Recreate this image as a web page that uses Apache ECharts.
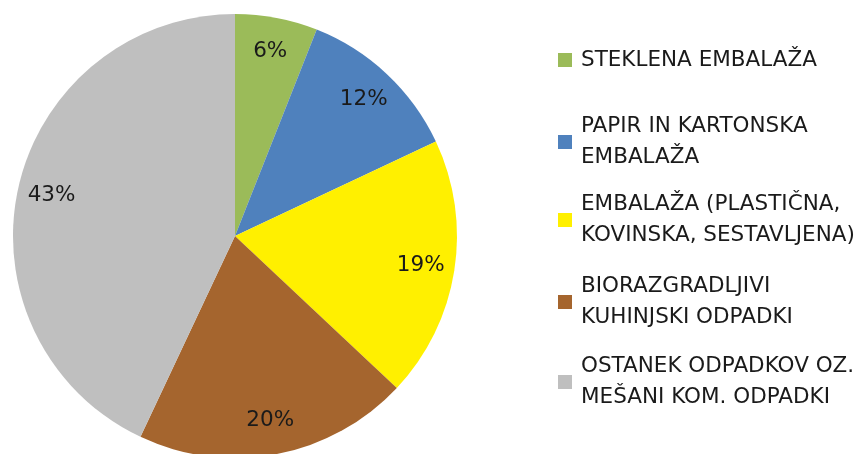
<!DOCTYPE html>
<html>
<head>
<meta charset="utf-8">
<script src="https://cdn.jsdelivr.net/npm/echarts@6/dist/echarts.min.js"></script>
<style>
  html, body { margin: 0; padding: 0; background: #fff; }
  #chart { width: 862px; height: 454px; }
</style>
</head>
<body>
<div id="chart"></div>
<script>
const categories = [
  'STEKLENA EMBALAŽA',
  'PAPIR IN KARTONSKA EMBALAŽA',
  'EMBALAŽA (PLASTIČNA, KOVINSKA, SESTAVLJENA)',
  'BIORAZGRADLJIVI KUHINJSKI ODPADKI',
  'OSTANEK ODPADKOV OZ. MEŠANI KOM. ODPADKI'
];
// legend text as wrapped in the original
const legendLines = [
  ['STEKLENA EMBALAŽA'],
  ['PAPIR IN KARTONSKA', 'EMBALAŽA'],
  ['EMBALAŽA (PLASTIČNA,', 'KOVINSKA, SESTAVLJENA)'],
  ['BIORAZGRADLJIVI', 'KUHINJSKI ODPADKI'],
  ['OSTANEK ODPADKOV OZ.', 'MEŠANI KOM. ODPADKI']
];
const shares = [6, 12, 19, 20, 43];
const colors = ['#9bbb59', '#4f81bd', '#fff000', '#a5652e', '#bfbfbf'];

const font = '"DejaVu Sans", sans-serif';
const lineH = 31;
// vertical centre of the first text line for each legend entry
const legendRows = [60, 142, 220, 302, 382];

const chart = echarts.init(document.getElementById('chart'));

const pieData = categories.map((name, i) => ({
  name,
  value: shares[i],
  itemStyle: { color: colors[i] }
}));

const legends = categories.map((name, i) => {
  const multi = legendLines[i].length > 1;
  const blockH = lineH * legendLines[i].length + (multi ? lineH : 0);
  return {
    orient: 'vertical',
    left: 558,
    top: legendRows[i] - blockH / 2,
    padding: 0,
    itemWidth: 14,
    itemHeight: 14,
    icon: 'rect',
    selectedMode: false,
    data: [name],
    formatter: () => legendLines[i].join('\n'),
    textStyle: {
      fontFamily: font,
      fontSize: 21.5,
      lineHeight: lineH,
      color: '#1a1a1a',
      padding: multi ? [lineH, 0, 0, 4] : [0, 0, 0, 4]
    }
  };
});

const option = {
  animation: false,
  legend: legends,
  series: [
    {
      type: 'pie',
      center: [235, 236],
      radius: [0, 222],
      startAngle: 90,
      clockwise: true,
      silent: true,
      label: { show: false },
      labelLine: { show: false },
      data: pieData
    },
    {
      // transparent ring used only to place the percentage labels
      type: 'pie',
      center: [235, 236],
      radius: [148, 222],
      startAngle: 90,
      clockwise: true,
      silent: true,
      itemStyle: { color: 'rgba(0,0,0,0)' },
      label: {
        show: true,
        position: 'inside',
        formatter: p => p.value + '%',
        fontFamily: font,
        fontSize: 21.5,
        color: '#1a1a1a'
      },
      labelLine: { show: false },
      data: categories.map((name, i) => ({ name, value: shares[i] }))
    }
  ]
};

chart.setOption(option);
</script>
</body>
</html>
